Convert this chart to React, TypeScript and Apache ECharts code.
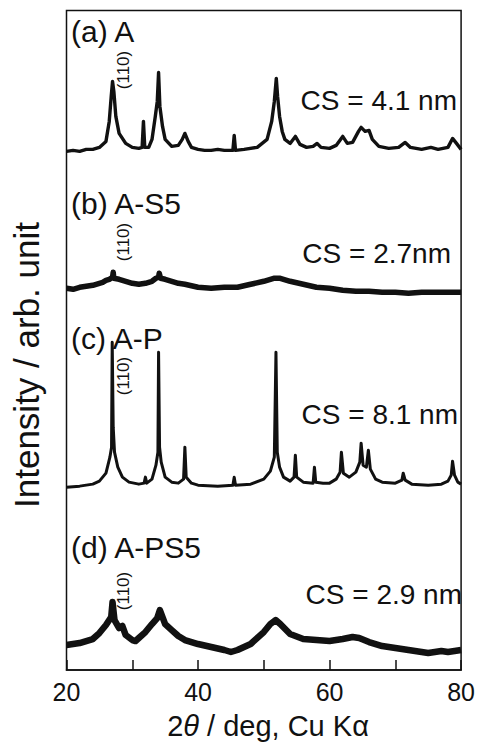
import React, { useEffect, useRef } from "react";
import * as echarts from "echarts";

// 2θ (deg) positions and intensities (arb. unit, relative to each pattern's own baseline)
const patternA_2theta = [20, 21, 22, 23, 24, 25, 26, 26.5, 26.8, 27.0, 27.2, 27.5, 28, 29, 30, 31, 31.5, 31.7, 31.9, 32.5, 33, 33.5, 33.8, 34.0, 34.2, 34.6, 35, 36, 37, 37.6, 38.0, 38.5, 39, 40, 41, 42, 43, 44, 45.3, 45.5, 45.7, 47, 49, 50.5, 51.2, 51.6, 51.9, 52.1, 52.4, 52.8, 53.2, 54, 54.8, 55.5, 56.5, 57.5, 58.1, 58.7, 60, 61, 62, 62.7, 63.5, 64.4, 64.8, 65.4, 66, 66.5, 67.5, 69, 70.5, 71.5, 72.3, 74, 75.4, 76.5, 78, 78.7, 79.3, 80];
const patternA_int = [0, 1, 0, 2, 2, 4, 10, 30, 55, 70, 60, 35, 18, 8, 4, 3, 4, 30, 4, 4, 12, 35, 50, 79, 45, 25, 12, 5, 6, 12, 18, 10, 4, 2, 1, 1, 2, 1, 1, 16, 1, 2, 4, 12, 30, 50, 73, 55, 35, 20, 12, 8, 15, 7, 4, 5, 8, 4, 3, 6, 15, 8, 9, 20, 24, 20, 21, 12, 5, 3, 4, 9, 4, 2, 4, 2, 4, 13, 8, 2];

const patternB_2theta = [20, 21, 22, 23, 24, 25, 25.5, 26, 26.5, 27.0, 27.1, 27.2, 28, 29, 30, 31, 32, 33, 33.6, 34.0, 34.1, 34.3, 35, 36, 37, 38, 40, 42, 44, 46, 48, 50, 51.5, 52.5, 54, 56, 58, 60, 62, 64, 66, 68, 70, 72, 74, 76, 78, 80];
const patternB_int = [4, 3, 5, 6, 7, 9, 10, 12, 13, 15, 20, 14, 13, 11, 9, 8, 9, 11, 14, 15, 19, 14, 13, 11, 9, 8, 5, 4, 5, 5, 8, 11, 14, 14, 11, 8, 5, 4, 2, 1, 1, 0, 0, -1, 0, 0, 0, 0];

const patternC_2theta = [20, 22, 24, 25, 26, 26.6, 26.85, 26.95, 27.1, 27.3, 27.8, 28.5, 29.5, 31, 31.8, 32, 32.2, 33, 33.6, 33.9, 34.0, 34.15, 34.4, 35, 36, 37, 37.8, 38.0, 38.2, 39, 40, 43, 45.3, 45.5, 45.7, 48, 50, 51, 51.6, 51.85, 52.05, 52.4, 53, 54, 54.6, 54.8, 55, 56, 57.5, 57.7, 57.9, 59, 60, 61, 61.6, 61.8, 62.1, 63, 64, 64.6, 64.8, 65.1, 65.6, 65.9, 66.2, 67, 68, 70, 71, 71.2, 71.5, 72.5, 75, 77, 78, 78.5, 78.7, 79, 79.5, 80];
const patternC_int = [0, 1, 3, 6, 14, 30, 40, 145, 60, 35, 20, 10, 5, 3, 4, 10, 4, 8, 22, 35, 135, 40, 25, 10, 5, 4, 8, 40, 10, 4, 2, 1, 2, 10, 2, 3, 8, 16, 30, 135, 35, 20, 10, 6, 10, 32, 10, 5, 4, 20, 5, 4, 4, 8, 15, 35, 14, 10, 15, 25, 44, 22, 20, 37, 18, 8, 5, 4, 7, 14, 7, 3, 2, 3, 6, 12, 26, 12, 5, 3];

const patternD_2theta = [20, 21, 22, 23, 24, 25, 26, 26.8, 27.0, 27.3, 28, 28.5, 29, 30, 30.5, 31, 32, 33, 33.8, 34.2, 35, 36, 37, 38, 40, 42, 44, 45, 46, 48, 50, 51, 51.8, 52.5, 54, 56, 58, 60, 62, 63.5, 64.5, 66, 68, 70, 72, 74, 75, 77, 78, 80];
const patternD_int = [5, 6, 7, 9, 11, 17, 25, 33, 48, 30, 22, 24, 15, 10, 9, 12, 18, 26, 32, 40, 26, 20, 14, 10, 6, 3, 0, -2, 0, 6, 18, 26, 30, 26, 16, 11, 10, 9, 11, 13, 12, 8, 4, 2, 0, -2, -3, -1, -2, 0];

// vertical stacking offset of each pattern (arb. unit)
const offsets = [519, 378, 183, 20];
const sampleNames = ["(a) A", "(b) A-S5", "(c) A-P", "(d) A-PS5"];
const crystalliteSizes = ["CS = 4.1 nm", "CS = 2.7nm", "CS = 8.1 nm", "CS = 2.9 nm"];
const peakLabel = "(110)";

const FONT = '"Liberation Sans", Arial, Helvetica, sans-serif';

function toSeries(xs: number[], ys: number[], off: number) {
  return xs.map((x, i) => [x, ys[i] + off]);
}

export default function App() {
  const ref = useRef<HTMLDivElement>(null);
  useEffect(() => {
    if (!ref.current) return;
    const chart = echarts.init(ref.current, null, { renderer: "svg" });
    const patterns = [
      { x: patternA_2theta, y: patternA_int, w: 3.4 },
      { x: patternB_2theta, y: patternB_int, w: 5.5 },
      { x: patternC_2theta, y: patternC_int, w: 3 },
      { x: patternD_2theta, y: patternD_int, w: 6.5 },
    ];
    const labelY = [31, 203, 338, 547];
    const peakLabelY = [70, 242, 376, 591];
    const csPos = [
      [457, 100],
      [451, 253],
      [458, 414],
      [462, 594],
    ];
    const graphics: any[] = [];
    sampleNames.forEach((t, i) => {
      graphics.push({
        type: "text",
        left: 71,
        top: labelY[i] - 15,
        style: { text: t, font: `30px ${FONT}`, fill: "#111" },
      });
      graphics.push({
        type: "text",
        x: 123,
        y: peakLabelY[i],
        rotation: Math.PI / 2,
        style: {
          text: peakLabel,
          font: `17px ${FONT}`,
          fill: "#111",
          align: "center",
          verticalAlign: "middle",
        },
      });
      graphics.push({
        type: "text",
        x: csPos[i][0],
        y: csPos[i][1],
        style: {
          text: crystalliteSizes[i],
          font: `28px ${FONT}`,
          fill: "#111",
          align: "right",
          verticalAlign: "middle",
        },
      });
    });
    graphics.push({
      type: "text",
      x: 268,
      y: 726,
      style: {
        text: "{n|2}{i|θ}{n| / deg, Cu Kα}",
        align: "center",
        verticalAlign: "middle",
        rich: {
          n: { font: `29px ${FONT}`, fill: "#111" },
          i: { font: `italic 29px ${FONT}`, fill: "#111" },
        },
      },
    });
    graphics.push({
      type: "text",
      x: 26,
      y: 365,
      rotation: Math.PI / 2,
      style: {
        text: "Intensity / arb. unit",
        font: `35px ${FONT}`,
        fill: "#111",
        align: "center",
        verticalAlign: "middle",
      },
    });

    chart.setOption({
      animation: false,
      backgroundColor: "#fff",
      grid: {
        left: 66.5,
        right: 8.5,
        top: 10.5,
        bottom: 75,
        show: true,
        borderColor: "#111",
        borderWidth: 1.5,
        backgroundColor: "transparent",
      },
      xAxis: {
        type: "value",
        min: 20,
        max: 80,
        interval: 10,
        axisLine: { show: true, lineStyle: { color: "#111", width: 1.5 } },
        axisTick: { show: true, inside: true, length: 10, lineStyle: { color: "#111", width: 1.5 } },
        axisLabel: {
          margin: 9,
          fontSize: 25,
          fontFamily: FONT,
          color: "#111",
          formatter: (v: number) => (v % 20 === 0 ? String(v) : ""),
        },
        splitLine: { show: false },
      },
      yAxis: {
        type: "value",
        min: 0,
        max: 660,
        axisLine: { show: false },
        axisTick: { show: false },
        axisLabel: { show: false },
        splitLine: { show: false },
      },
      series: patterns.map((p, i) => ({
        type: "line",
        data: toSeries(p.x, p.y, offsets[i]),
        showSymbol: false,
        symbol: "none",
        lineStyle: { color: "#111", width: p.w, join: "round" },
        z: 3,
      })),
      graphic: graphics,
    });
    return () => chart.dispose();
  }, []);
  return (
    <div
      ref={ref}
      style={{ position: "fixed", left: 0, top: 0, width: 478, height: 745 }}
    />
  );
}
